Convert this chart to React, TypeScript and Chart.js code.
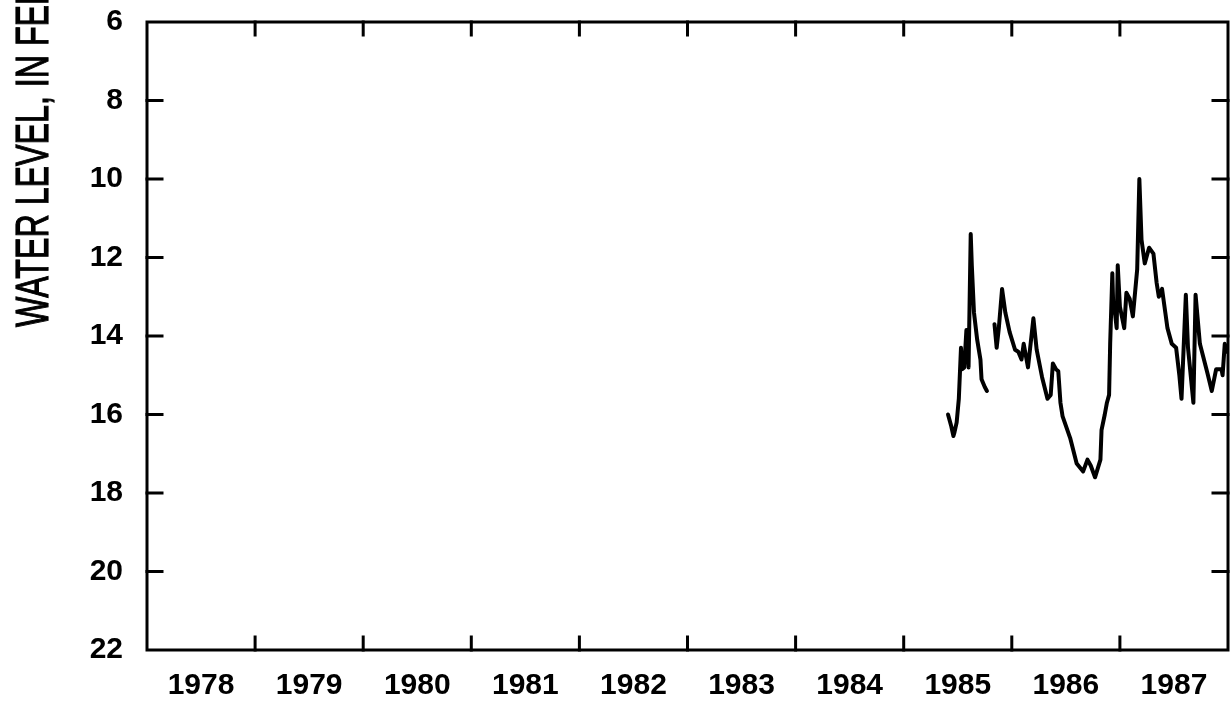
import { useEffect, useRef } from 'react';
import { Chart, registerables } from 'chart.js';

Chart.register(...registerables);

// Calendar years shown along the bottom; each label sits in the middle of its year.
const YEAR_LABELS = ['1978', '1979', '1980', '1981', '1982', '1983', '1984', '1985', '1986', '1987'];
const FIRST_YEAR = 1978;
const LAST_YEAR = 1988;

// Depth to water, feet below land surface (axis runs downward).
const LEVEL_MIN = 6;
const LEVEL_MAX = 22;
const LEVEL_STEP = 2;

const AXIS_TITLE = 'WATER LEVEL, IN FEET BELOW LAND SURFACE';

// First record period (decimal year, depth in feet)
const SEG1_YEARS = [
  1985.41, 1985.44, 1985.46, 1985.47, 1985.49, 1985.51, 1985.53, 1985.54, 1985.56, 1985.58,
  1985.59, 1985.6, 1985.62, 1985.63, 1985.65, 1985.68, 1985.71, 1985.72, 1985.75, 1985.77,
];
const SEG1_LEVELS = [
  16.0, 16.3, 16.55, 16.45, 16.2, 15.6, 14.3, 14.85, 14.8, 13.85,
  13.9, 14.8, 11.4, 12.2, 13.4, 14.1, 14.6, 15.1, 15.3, 15.4,
];

// Second record period
const SEG2_YEARS = [
  1985.84, 1985.86, 1985.88, 1985.91, 1985.94, 1985.98, 1986.03, 1986.06, 1986.09, 1986.11,
  1986.15, 1986.2, 1986.23, 1986.28, 1986.33, 1986.36, 1986.38, 1986.41, 1986.43, 1986.45,
  1986.47, 1986.54, 1986.6, 1986.66, 1986.7, 1986.73, 1986.77, 1986.82, 1986.83, 1986.86,
  1986.88, 1986.9, 1986.91, 1986.93, 1986.94, 1986.95, 1986.97, 1986.98, 1987.0, 1987.04,
  1987.06, 1987.09, 1987.12, 1987.16, 1987.18, 1987.2, 1987.23, 1987.27, 1987.31, 1987.34,
  1987.36, 1987.39, 1987.42, 1987.44, 1987.48, 1987.52, 1987.55, 1987.57, 1987.61, 1987.63,
  1987.68, 1987.7, 1987.74, 1987.81, 1987.85, 1987.89, 1987.94, 1987.95, 1987.97, 1987.99,
];
const SEG2_LEVELS = [
  13.7, 14.3, 13.8, 12.8, 13.4, 13.9, 14.35, 14.4, 14.6, 14.2,
  14.8, 13.55, 14.35, 15.05, 15.6, 15.5, 14.7, 14.85, 14.9, 15.7,
  16.05, 16.6, 17.25, 17.45, 17.15, 17.3, 17.6, 17.15, 16.4, 16.0,
  15.7, 15.5, 14.2, 12.4, 13.4, 13.3, 13.8, 12.2, 13.25, 13.8,
  12.9, 13.05, 13.5, 12.3, 10.0, 11.55, 12.15, 11.75, 11.9, 12.65,
  13.0, 12.8, 13.4, 13.8, 14.2, 14.3, 15.0, 15.6, 12.95, 14.3,
  15.7, 12.95, 14.2, 14.95, 15.4, 14.85, 14.85, 15.0, 14.2, 14.4,
];

const toPoints = (xs: number[], ys: number[]) => xs.map((x, i) => ({ x, y: ys[i] }));

const TICK_FONT = {
  family: '"Liberation Sans", Arial, sans-serif',
  size: 30,
  weight: 'bold' as const,
};

// Boxed plot frame with short inward tick marks on all four sides.
const framePlugin = {
  id: 'frame',
  afterDraw(chart: any) {
    const { ctx, chartArea } = chart;
    const xs = chart.scales.x;
    const ys = chart.scales.y;
    const { left, right, top, bottom } = chartArea;
    const len = 13;
    ctx.save();
    ctx.strokeStyle = '#000';
    ctx.lineWidth = 3;
    ctx.lineCap = 'square';
    ctx.strokeRect(left, top, right - left, bottom - top);
    ctx.beginPath();
    for (let yr = FIRST_YEAR + 1; yr < LAST_YEAR; yr++) {
      const px = xs.getPixelForValue(yr);
      ctx.moveTo(px, bottom);
      ctx.lineTo(px, bottom - len);
      ctx.moveTo(px, top);
      ctx.lineTo(px, top + len);
    }
    for (let lv = LEVEL_MIN + LEVEL_STEP; lv < LEVEL_MAX; lv += LEVEL_STEP) {
      const py = ys.getPixelForValue(lv);
      ctx.moveTo(left, py);
      ctx.lineTo(left + len + 2, py);
      ctx.moveTo(right, py);
      ctx.lineTo(right - len - 2, py);
    }
    ctx.stroke();
    ctx.restore();
  },
};

// Condensed vertical axis title, reading bottom to top.
const titlePlugin = {
  id: 'sideTitle',
  afterDraw(chart: any) {
    const { ctx } = chart;
    ctx.save();
    ctx.translate(48, 327);
    ctx.rotate(-Math.PI / 2);
    ctx.scale(0.7, 1);
    ctx.font = '46px "Liberation Sans", Arial, sans-serif';
    ctx.fillStyle = '#000';
    ctx.strokeStyle = '#000';
    ctx.lineWidth = 1.2;
    ctx.textAlign = 'left';
    ctx.textBaseline = 'alphabetic';
    ctx.fillText(AXIS_TITLE, 0, 0);
    ctx.strokeText(AXIS_TITLE, 0, 0);
    ctx.restore();
  },
};

export default function App() {
  const canvasRef = useRef<HTMLCanvasElement | null>(null);

  useEffect(() => {
    document.body.style.margin = '0';
    const canvas = canvasRef.current;
    if (!canvas) return;

    const lineStyle = {
      borderColor: '#000',
      borderWidth: 4,
      pointRadius: 0,
      tension: 0,
      borderJoinStyle: 'round' as const,
      borderCapStyle: 'round' as const,
      fill: false,
    };

    const chart = new Chart(canvas, {
      type: 'line',
      data: {
        datasets: [
          { ...lineStyle, data: toPoints(SEG1_YEARS, SEG1_LEVELS) },
          { ...lineStyle, data: toPoints(SEG2_YEARS, SEG2_LEVELS) },
        ],
      },
      options: {
        responsive: false,
        animation: false,
        layout: { padding: { top: 22, right: 3, left: 0, bottom: 0 } },
        plugins: { legend: { display: false }, tooltip: { enabled: false } },
        scales: {
          x: {
            type: 'linear',
            min: FIRST_YEAR,
            max: LAST_YEAR,
            grid: { display: false, drawTicks: false },
            border: { display: false },
            afterBuildTicks: (scale: any) => {
              scale.ticks = YEAR_LABELS.map((_, i) => ({ value: FIRST_YEAR + i + 0.5 }));
            },
            afterFit: (scale: any) => {
              scale.height = 65;
              scale.paddingLeft = 0;
              scale.paddingRight = 0;
            },
            ticks: {
              autoSkip: false,
              maxRotation: 0,
              color: '#000',
              font: TICK_FONT,
              padding: 18,
              callback: (_v: any, i: number) => YEAR_LABELS[i],
            },
          },
          y: {
            type: 'linear',
            reverse: true,
            min: LEVEL_MIN,
            max: LEVEL_MAX,
            grid: { display: false, drawTicks: false },
            border: { display: false },
            afterFit: (scale: any) => {
              scale.width = 147;
              scale.paddingTop = 0;
              scale.paddingBottom = 0;
            },
            ticks: {
              stepSize: LEVEL_STEP,
              color: '#000',
              font: TICK_FONT,
              padding: 24,
            },
          },
        },
      },
      plugins: [framePlugin, titlePlugin],
    });

    return () => chart.destroy();
  }, []);

  return (
    <div style={{ width: 1231, height: 715 }}>
      <canvas ref={canvasRef} width={1231} height={715} style={{ display: 'block' }} />
    </div>
  );
}
